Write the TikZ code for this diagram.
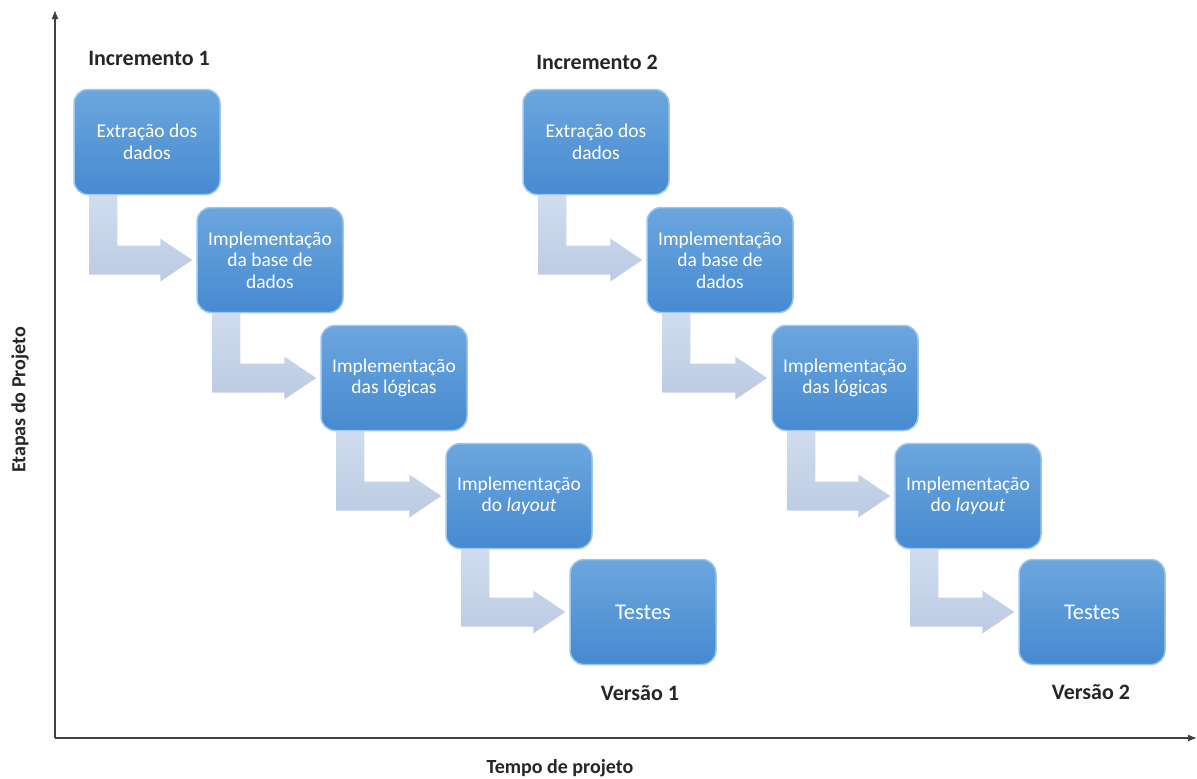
\documentclass[tikz,border=0pt]{standalone}
\usepackage{fontspec}
\setmainfont{Carlito}
\usetikzlibrary{calc,arrows.meta}
\pgfdeclarelayer{bg}
\pgfsetlayers{bg,main}
\definecolor{boxtop}{HTML}{6CA6DE}
\definecolor{boxbot}{HTML}{468AD0}
\definecolor{boxedge}{HTML}{9CC6EE}
\definecolor{arrtop}{HTML}{D0DCEE}
\definecolor{arrbot}{HTML}{BCCBE3}
\tikzset{
  stage/.style={rounded corners=14pt, minimum width=146pt, minimum height=105pt,
    top color=boxtop, bottom color=boxbot, draw=boxedge, line width=1.5pt,
    text=white, align=center, font=\fontsize{19.5}{21.5}\selectfont, inner sep=2pt},
  lbl/.style={font=\bfseries\fontsize{22}{24}\selectfont, text=black!85},
  axlbl/.style={font=\bfseries\fontsize{20}{24}\selectfont, text=black!85},
  flow/.style={top color=arrtop, bottom color=arrbot, draw=none},
  axis/.style={line width=1.3pt, draw=black!75, -{Latex[length=9pt,width=7pt]}}
}
\newcommand\bentarrow[2]{%
  \path[flow] let \p1=(#1.south west), \p2=(#2.west) in
    (\x1+16pt,\y1) -- (\x1+16pt,\y2-14.5pt) -- (\x2-36pt,\y2-14.5pt) -- (\x2-36pt,\y2-21.5pt)
    -- (\x2-4pt,\y2) -- (\x2-36pt,\y2+21.5pt) -- (\x2-36pt,\y2+14.5pt)
    -- (\x1+44pt,\y2+14.5pt) -- (\x1+44pt,\y1) -- cycle;}
\begin{document}
\begin{tikzpicture}[x=1pt,y=-1pt]
\useasboundingbox (0,0) rectangle (1197,779);
% axes
\coordinate (o) at (55,738);
\coordinate (yend) at (55,10);
\coordinate (xend) at (1197,738);
\draw[axis] (o) -- (yend);
\draw[axis] (o) -- (xend);
\node[axlbl, rotate=90] (ylab) at (20,400) {Etapas do Projeto};
\node[axlbl] (xlab) at (560,768) {Tempo de projeto};
% increment 1
\node[lbl] (inc1) at (149,58) {Incremento 1};
\node[stage] (a1) at (147,142) {Extração dos\\dados};
\node[stage] (a2) at (270,260) {Implementação\\da base de\\dados};
\node[stage] (a3) at (394,378) {Implementação\\das lógicas};
\node[stage] (a4) at (519,496) {Implementação\\do \textit{layout}};
\node[stage, font=\fontsize{22.5}{24}\selectfont] (a5) at (643,612) {Testes};
\node[lbl] (v1) at (640,693) {Versão 1};
% increment 2
\node[lbl] (inc2) at (597,62) {Incremento 2};
\node[stage] (b1) at (596,142) {Extração dos\\dados};
\node[stage] (b2) at (720,260) {Implementação\\da base de\\dados};
\node[stage] (b3) at (845,378) {Implementação\\das lógicas};
\node[stage] (b4) at (968,496) {Implementação\\do \textit{layout}};
\node[stage, font=\fontsize{22.5}{24}\selectfont] (b5) at (1092,612) {Testes};
\node[lbl] (v2) at (1091,692) {Versão 2};
\begin{pgfonlayer}{bg}
\bentarrow{a1}{a2}
\bentarrow{a2}{a3}
\bentarrow{a3}{a4}
\bentarrow{a4}{a5}
\bentarrow{b1}{b2}
\bentarrow{b2}{b3}
\bentarrow{b3}{b4}
\bentarrow{b4}{b5}
\end{pgfonlayer}
\end{tikzpicture}
\end{document}
